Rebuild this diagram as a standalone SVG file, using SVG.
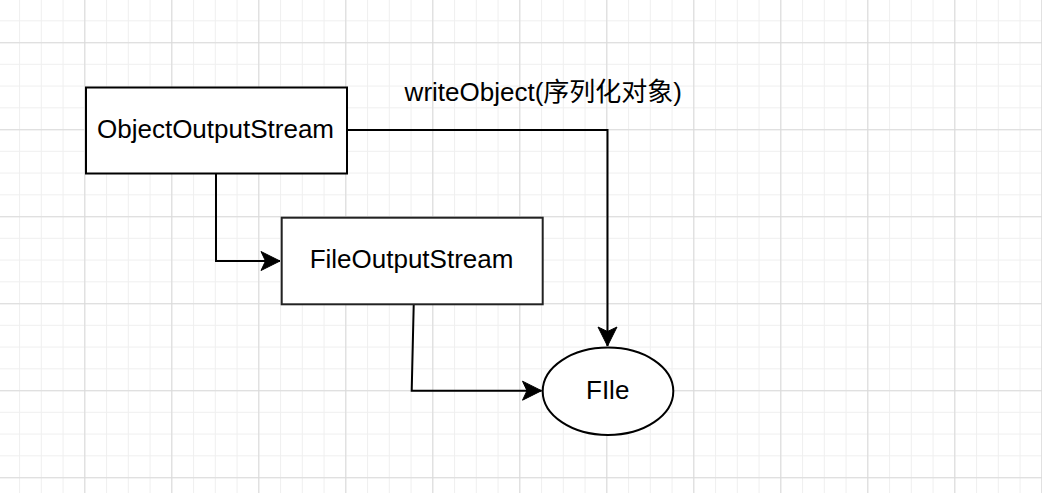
<svg xmlns="http://www.w3.org/2000/svg" width="1042" height="493" viewBox="0 0 1042 493">
  <style>
    .box { fill: #ffffff; stroke: #000000; stroke-width: 2; }
    .edge { fill: none; stroke: #000000; stroke-width: 2; marker-end: url(#arrow); }
    .label { font-family: "Liberation Sans", Arial, "Noto Sans CJK SC", sans-serif; font-size: 26px; fill: #000000; text-anchor: middle; }
  </style>
  <defs>
    <pattern id="minor" patternUnits="userSpaceOnUse" x="-2.7" y="-1.45" width="21.75" height="21.75">
      <path d="M0.5,0 V21.75 M0,0.5 H21.75" stroke="#efefef" stroke-width="1" fill="none"/>
    </pattern>
    <pattern id="major" patternUnits="userSpaceOnUse" x="-2.7" y="-44.7" width="87" height="87">
      <path d="M0.5,0 V87 M0,0.5 H87" stroke="#d9d9d9" stroke-width="1" fill="none"/>
    </pattern>
    <marker id="arrow" markerUnits="userSpaceOnUse" viewBox="-20 -11 22 22" refX="0" refY="0" markerWidth="22" markerHeight="22" orient="auto">
      <path d="M0,0 L-19,-9.5 L-14.5,0 L-19,9.5 Z" fill="#000000" stroke="#000000" stroke-width="1" stroke-linejoin="miter"/>
    </marker>
  </defs>
  <rect x="0" y="0" width="1042" height="493" fill="#ffffff"/>
  <rect x="0" y="0" width="1042" height="493" fill="url(#minor)"/>
  <rect x="0" y="0" width="1042" height="493" fill="url(#major)"/>

  <g id="connectors">
    <path class="edge" d="M216,174 V261 H280"/>
    <path class="edge" d="M347,130 H607.5 V346"/>
    <path class="edge" d="M413.7,305 L411.7,390.7 H541.5"/>
  </g>

  <g id="label-writeObject">
    <text class="label" x="543.3" y="101">writeObject(序列化对象)</text>
  </g>

  <g id="node-ObjectOutputStream">
    <rect class="box" x="86" y="87.5" width="261" height="86"/>
    <text class="label" x="215.5" y="138">ObjectOutputStream</text>
  </g>

  <g id="node-FileOutputStream">
    <rect class="box" x="281.7" y="217.7" width="261" height="86.6" style="stroke:#222222"/>
    <text class="label" x="411.5" y="268">FileOutputStream</text>
  </g>

  <g id="node-File">
    <ellipse class="box" cx="608" cy="391.3" rx="65.3" ry="43.7"/>
    <text class="label" x="607.7" y="399">FIle</text>
  </g>
</svg>
